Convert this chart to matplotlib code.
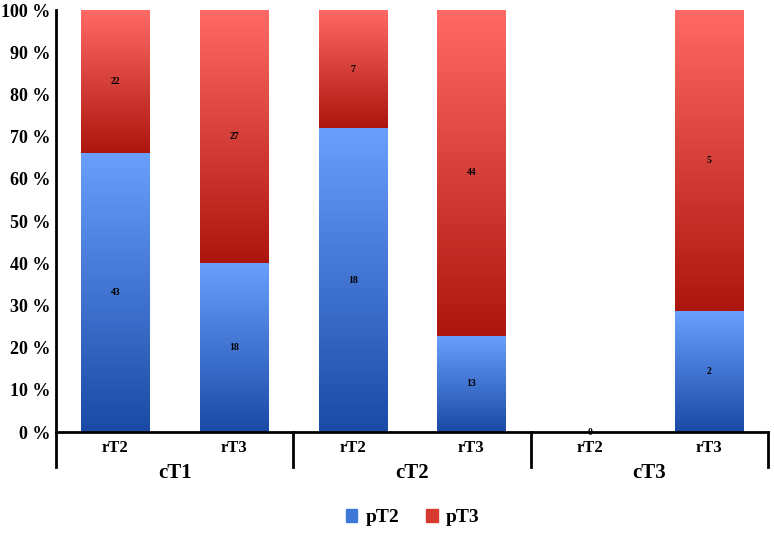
import numpy as np
import matplotlib
matplotlib.use("Agg")
import matplotlib.pyplot as plt
import matplotlib.patches as mpatches
from matplotlib.colors import LinearSegmentedColormap

# data
groups = ["cT1", "cT2", "cT3"]
subcats = ["rT2", "rT3", "rT2", "rT3", "rT2", "rT3"]
pt2 = [43, 18, 18, 13, 0, 2]
pt3 = [22, 27, 7, 44, 0, 5]

plt.rcParams["font.family"] = ["Liberation Serif", "DejaVu Serif"]
plt.rcParams["font.weight"] = "bold"

blue_cmap = LinearSegmentedColormap.from_list("b", ["#1a4aa6", "#6a9ffd"])
red_cmap = LinearSegmentedColormap.from_list("r", ["#ad160e", "#ff6a66"])

fig = plt.figure(figsize=(7.74, 5.35), dpi=100)
ax = fig.add_axes([0.0724, 0.1925, 0.9198, 0.7888])

x = np.arange(len(subcats))
tot = np.array(pt2) + np.array(pt3)
p2 = np.where(tot > 0, np.array(pt2) / np.where(tot > 0, tot, 1) * 100, 0)
p3 = np.where(tot > 0, np.array(pt3) / np.where(tot > 0, tot, 1) * 100, 0)

w = 0.575
bars2 = ax.bar(x, p2, w, color="none", edgecolor="none")
bars3 = ax.bar(x, p3, w, bottom=p2, color="none", edgecolor="none")

grad = np.linspace(0, 1, 256).reshape(-1, 1)
for bars, cmap in [(bars2, blue_cmap), (bars3, red_cmap)]:
    for b in bars:
        h = b.get_height()
        if h <= 0:
            continue
        x0, y0 = b.get_x(), b.get_y()
        im = ax.imshow(grad, cmap=cmap, origin="lower", aspect="auto",
                       extent=[x0, x0 + b.get_width(), y0, y0 + h], zorder=2)
        im.set_clip_path(b)

# value labels
for i in range(len(x)):
    ax.text(x[i], p2[i] / 2, str(pt2[i]), ha="center", va="center", fontsize=7, zorder=3)
    if tot[i] > 0:
        ax.text(x[i], p2[i] + p3[i] / 2, str(pt3[i]), ha="center", va="center",
                fontsize=7, zorder=3)

ax.set_xlim(-0.5, len(x) - 0.5)
ax.set_ylim(0, 100)
ax.set_yticks(np.arange(0, 101, 10))
ax.set_yticklabels([f"{v} %" for v in range(0, 101, 10)], fontsize=13, fontweight="bold")
ax.set_xticks(x)
ax.set_xticklabels(subcats, fontsize=12, fontweight="bold")
ax.tick_params(axis="both", length=0, pad=4)
ax.tick_params(axis="x", pad=6)
for s in ["top", "right"]:
    ax.spines[s].set_visible(False)
ax.spines["left"].set_linewidth(2)
ax.spines["bottom"].set_linewidth(2)

# group separators and labels
trans = ax.get_xaxis_transform()
for gx in np.arange(-0.5, len(x), 2):
    ax.plot([gx, gx], [0, -0.083], color="black", lw=2, transform=trans, clip_on=False)
for gi, g in enumerate(groups):
    ax.text(gi * 2 + 0.5, -0.098, g, ha="center", va="center", fontsize=15,
            fontweight="bold", transform=trans)

handles = [mpatches.Patch(color="#3e78d8", label="pT2"),
           mpatches.Patch(color="#d83a32", label="pT3")]
fig.legend(handles=handles, loc="center", bbox_to_anchor=(0.533, 0.032), ncol=2,
           frameon=False, prop={"size": 14, "weight": "bold"},
           handlelength=0.6, handleheight=0.6, handletextpad=0.4, columnspacing=1.4)

fig.savefig("out.png", dpi=100)
